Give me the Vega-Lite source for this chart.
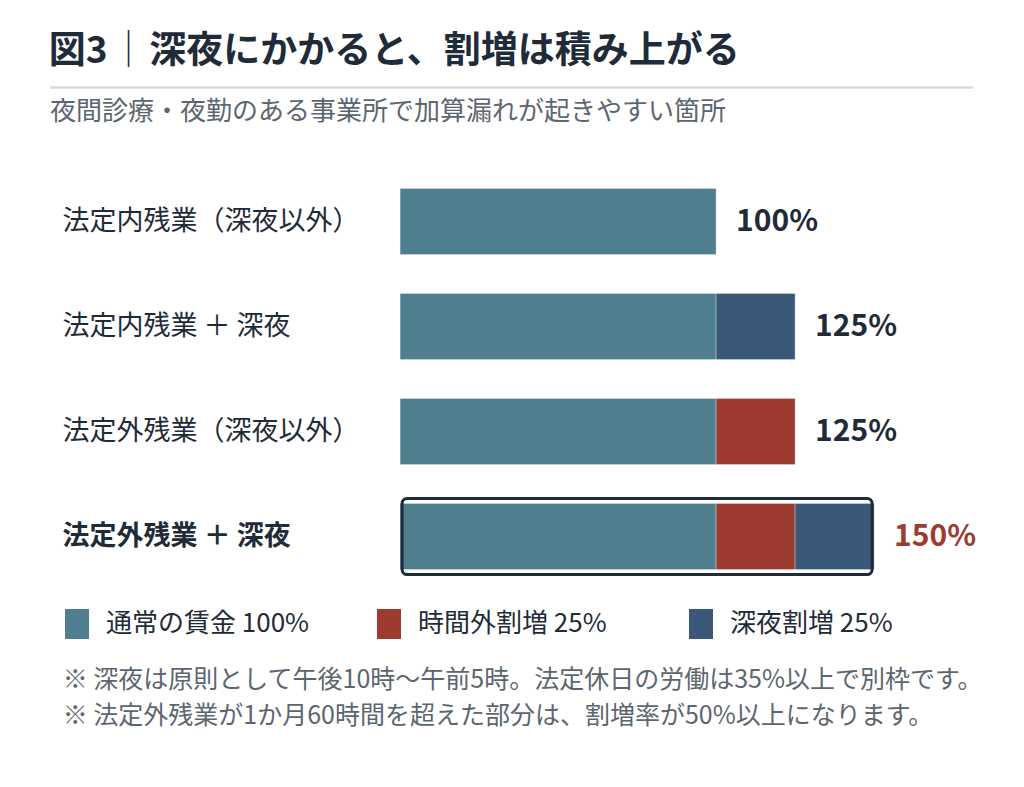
{
  "$schema": "https://vega.github.io/schema/vega-lite/v6.json",
  "background": "#ffffff",
  "padding": {"left": 48, "top": 33, "right": 40, "bottom": 20},
  "config": {
    "font": "Noto Sans CJK JP",
    "view": {"stroke": null},
    "title": {"color": "#1F2B38"}
  },
  "title": {
    "text": [
      "※ 深夜は原則として午後10時〜午前5時。法定休日の労働は35%以上で別枠です。",
      "※ 法定外残業が1か月60時間を超えた部分は、割増率が50%以上になります。"
    ],
    "orient": "bottom",
    "anchor": "start",
    "dx": 14,
    "offset": 29,
    "fontSize": 25,
    "fontWeight": "normal",
    "color": "#5C6670",
    "lineHeight": 36
  },
  "datasets": {
    "wages": [
      {"category": "法定内残業（深夜以外）", "part": "通常の賃金 100%", "rank": 1, "value": 100},
      {"category": "法定内残業 ＋ 深夜", "part": "通常の賃金 100%", "rank": 1, "value": 100},
      {"category": "法定内残業 ＋ 深夜", "part": "深夜割増 25%", "rank": 3, "value": 25},
      {"category": "法定外残業（深夜以外）", "part": "通常の賃金 100%", "rank": 1, "value": 100},
      {"category": "法定外残業（深夜以外）", "part": "時間外割増 25%", "rank": 2, "value": 25},
      {"category": "法定外残業 ＋ 深夜", "part": "通常の賃金 100%", "rank": 1, "value": 100},
      {"category": "法定外残業 ＋ 深夜", "part": "時間外割増 25%", "rank": 2, "value": 25},
      {"category": "法定外残業 ＋ 深夜", "part": "深夜割増 25%", "rank": 3, "value": 25}
    ],
    "header": [{"from": 0, "to": 1}]
  },
  "spacing": 10,
  "resolve": {"legend": {"color": "independent"}, "scale": {"x": "independent"}},
  "vconcat": [
    {
      "width": 923,
      "height": 1,
      "title": {
        "text": "図3\u200a│\u200a深夜にかかると、割増は積み上がる",
        "anchor": "start",
        "fontSize": 37,
        "fontWeight": "bold",
        "color": "#1F2B38",
        "offset": 15
      },
      "data": {"name": "header"},
      "mark": {"type": "rule", "color": "#D3DCE3", "strokeWidth": 2.5},
      "encoding": {
        "x": {"field": "from", "type": "quantitative", "axis": null, "scale": {"domain": [0, 1]}},
        "x2": {"field": "to"}
      }
    },
    {
      "width": 923,
      "height": 420,
      "title": {
        "text": "夜間診療・夜勤のある事業所で加算漏れが起きやすい箇所",
        "anchor": "start",
        "fontSize": 26,
        "fontWeight": "normal",
        "color": "#5C6670",
        "offset": 44
      },
      "data": {"name": "wages"},
      "encoding": {
        "y": {
          "field": "category",
          "type": "nominal",
          "sort": ["法定内残業（深夜以外）", "法定内残業 ＋ 深夜", "法定外残業（深夜以外）", "法定外残業 ＋ 深夜"],
          "scale": {"paddingInner": 0.37, "paddingOuter": 0.185},
          "axis": {
            "title": null,
            "domain": false,
            "ticks": false,
            "labelAlign": "left",
            "labelPadding": -12,
            "labelLimit": 400,
            "labelFontSize": 27,
            "labelColor": "#1F2B38",
            "labelFontWeight": {"condition": {"test": "datum.value == '法定外残業 ＋ 深夜'", "value": "bold"}, "value": "normal"}
          }
        }
      },
      "layer": [
        {
          "mark": {"type": "bar", "stroke": "#ffffff", "strokeWidth": 0.6, "strokeOpacity": 0.5},
          "encoding": {
            "x": {"field": "value", "type": "quantitative", "aggregate": "sum", "stack": "zero", "axis": null, "scale": {"domain": [-110.8, 181.3], "nice": false, "zero": false}},
            "order": {"field": "rank", "type": "ordinal"},
            "color": {
              "field": "part",
              "type": "nominal",
              "scale": {
                "domain": ["通常の賃金 100%", "時間外割増 25%", "深夜割増 25%"],
                "range": ["#4F7F8F", "#9D3B31", "#3A5878"]
              },
              "legend": {
                "title": null,
                "orient": "none",
                "legendX": 12,
                "legendY": 440,
                "direction": "horizontal",
                "columns": 3,
                "gridAlign": "all",
                "columnPadding": 64,
                "symbolType": "M-0.8,-1H0.8V1H-0.8Z",
                "symbolSize": 900,
                "symbolStrokeWidth": 0,
                "symbolOffset": 0,
                "labelOffset": 14,
                "labelFontSize": 26,
                "labelColor": "#1F2B38",
                "labelLimit": 400
              }
            }
          }
        },
        {
          "transform": [
            {"filter": "datum.category == '法定外残業 ＋ 深夜'"},
            {"aggregate": [{"op": "sum", "field": "value", "as": "total"}], "groupby": ["category"]}
          ],
          "mark": {
            "type": "bar",
            "fillOpacity": 0,
            "stroke": "#1F2B38",
            "strokeWidth": 3,
            "cornerRadius": 5,
            "xOffset": -2,
            "x2Offset": 2,
            "height": {"band": 1.15}
          },
          "encoding": {
            "x": {"field": "total", "type": "quantitative"},
            "x2": {"datum": 0}
          }
        },
        {
          "transform": [
            {"aggregate": [{"op": "sum", "field": "value", "as": "total"}], "groupby": ["category"]},
            {"calculate": "datum.total + '%'", "as": "label"}
          ],
          "mark": {"type": "text", "align": "left", "baseline": "middle", "dx": 20, "fontSize": 30, "fontWeight": "bold"},
          "encoding": {
            "x": {"field": "total", "type": "quantitative"},
            "text": {"field": "label"},
            "color": {"condition": {"test": "datum.category == '法定外残業 ＋ 深夜'", "value": "#9D3B31"}, "value": "#1F2B38"}
          }
        }
      ]
    }
  ]
}
